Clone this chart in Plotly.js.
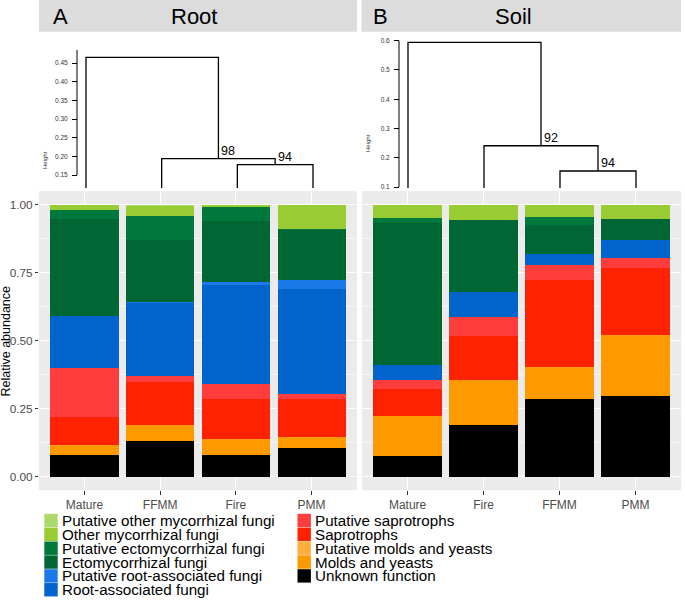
<!DOCTYPE html>
<html>
<head>
<meta charset="utf-8">
<script src="https://cdn.plot.ly/plotly-3.0.1.min.js"></script>
<style>html,body{margin:0;padding:0;background:#fff;}#chart{width:685px;height:601px;}</style>
</head>
<body>
<div id="chart"></div>
<script>
// ---------- data ----------
const rootSites = ['Mature', 'FFMM', 'Fire', 'PMM'];
const soilSites = ['Mature', 'Fire', 'FFMM', 'PMM'];

// guilds in stacking order (bottom -> top)
const guilds = ['Unknown function', 'Molds and yeasts', 'Putative molds and yeasts', 'Saprotrophs',
  'Putative saprotrophs', 'Root-associated fungi', 'Putative root-associated fungi',
  'Ectomycorrhizal fungi', 'Putative ectomycorrhizal fungi', 'Other mycorrhizal fungi',
  'Putative other mycorrhizal fungi'];
const guildColors = ['#000000', '#ff9900', '#ffad3b', '#ff2200', '#ff3d3d', '#0064cc', '#1a78e8',
  '#006633', '#00773b', '#99cc33', '#add86a'];

// Root panel (A) relative abundances, order = rootSites
const rootUnknown = [0.078, 0.132, 0.080, 0.104];
const rootMolds = [0.040, 0.058, 0.058, 0.042];
const rootPutMolds = [0, 0, 0, 0];
const rootSapro = [0.103, 0.158, 0.148, 0.140];
const rootPutSapro = [0.180, 0.023, 0.055, 0.018];
const rootRootAssoc = [0.190, 0.266, 0.362, 0.385];
const rootPutRootAssoc = [0, 0.005, 0.013, 0.034];
const rootEcto = [0.355, 0.228, 0.224, 0.184];
const rootPutEcto = [0.036, 0.088, 0.050, 0.003];
const rootOtherMyc = [0.018, 0.037, 0.010, 0.090];
const rootPutOtherMyc = [0, 0.005, 0, 0];

// Soil panel (B) relative abundances, order = soilSites
const soilUnknown = [0.075, 0.191, 0.286, 0.298];
const soilMolds = [0.149, 0.163, 0.116, 0.222];
const soilPutMolds = [0, 0, 0, 0];
const soilSapro = [0.097, 0.164, 0.322, 0.248];
const soilPutSapro = [0.034, 0.070, 0.053, 0.036];
const soilRootAssoc = [0.056, 0.091, 0.040, 0.066];
const soilPutRootAssoc = [0, 0, 0, 0];
const soilEcto = [0.523, 0.266, 0.107, 0.079];
const soilPutEcto = [0.017, 0, 0.032, 0];
const soilOtherMyc = [0.049, 0.055, 0.044, 0.051];
const soilPutOtherMyc = [0, 0, 0, 0];

// Dendrograms: merge heights (leaf2+leaf3, leaf1+node, leaf0+node) and bootstrap support
const rootMergeHeights = [0.1776, 0.1937, 0.4653];
const rootBootstrap = ['94', '98'];
const soilMergeHeights = [0.1547, 0.241, 0.5945];
const soilBootstrap = ['94', '92'];

const rootHeightTicks = [0.15, 0.20, 0.25, 0.30, 0.35, 0.40, 0.45];
const soilHeightTicks = [0.1, 0.2, 0.3, 0.4, 0.5, 0.6];

// legend columns (top -> bottom)
const legendCol1 = ['Putative other mycorrhizal fungi', 'Other mycorrhizal fungi', 'Putative ectomycorrhizal fungi',
  'Ectomycorrhizal fungi', 'Putative root-associated fungi', 'Root-associated fungi'];
const legendCol2 = ['Putative saprotrophs', 'Saprotrophs', 'Putative molds and yeasts', 'Molds and yeasts', 'Unknown function'];

// ---------- build ----------
const W = 685, H = 601;
const px = x => x / W;
const py = y => 1 - y / H;
const FONT = 'Liberation Sans, Arial, Helvetica, sans-serif';

const rootSeries = [rootUnknown, rootMolds, rootPutMolds, rootSapro, rootPutSapro, rootRootAssoc,
  rootPutRootAssoc, rootEcto, rootPutEcto, rootOtherMyc, rootPutOtherMyc];
const soilSeries = [soilUnknown, soilMolds, soilPutMolds, soilSapro, soilPutSapro, soilRootAssoc,
  soilPutRootAssoc, soilEcto, soilPutEcto, soilOtherMyc, soilPutOtherMyc];

const traces = [];
guilds.forEach((g, i) => {
  traces.push({type: 'bar', name: g, x: rootSites, y: rootSeries[i], xaxis: 'x', yaxis: 'y',
    width: 0.9, marker: {color: guildColors[i], line: {width: 0}}, showlegend: false, hoverinfo: 'skip'});
  traces.push({type: 'bar', name: g, x: soilSites, y: soilSeries[i], xaxis: 'x2', yaxis: 'y2',
    width: 0.9, marker: {color: guildColors[i], line: {width: 0}}, showlegend: false, hoverinfo: 'skip'});
});

function dendro(h, ymin) {
  const n1 = 2.5, n2 = (1 + n1) / 2;
  const xs = [2, 2, 3, 3, null, 1, 1, n1, n1, null, 0, 0, n2, n2];
  const ys = [ymin, h[0], h[0], ymin, null, ymin, h[1], h[1], h[0], null, ymin, h[2], h[2], h[1]];
  return {xs, ys, nodes: [[n1, h[0]], [n2, h[1]]]};
}
const rootY = [0.1152, 0.4982];
const soilY = [0.0966, 0.6195];
const dRoot = dendro(rootMergeHeights, rootY[0]);
const dSoil = dendro(soilMergeHeights, soilY[0]);
traces.push({type: 'scatter', mode: 'lines', x: dRoot.xs, y: dRoot.ys, xaxis: 'x3', yaxis: 'y3',
  line: {color: '#000', width: 1.3}, showlegend: false, hoverinfo: 'skip', connectgaps: false});
traces.push({type: 'scatter', mode: 'lines', x: dSoil.xs, y: dSoil.ys, xaxis: 'x4', yaxis: 'y4',
  line: {color: '#000', width: 1.3}, showlegend: false, hoverinfo: 'skip', connectgaps: false});

const shapes = [];
const annotations = [];

// panel backgrounds
shapes.push({type: 'rect', xref: 'paper', yref: 'paper', x0: px(39), x1: px(357), y0: py(490.3), y1: py(191.1),
  fillcolor: '#ebebeb', line: {width: 0}, layer: 'below'});
shapes.push({type: 'rect', xref: 'paper', yref: 'paper', x0: px(362), x1: px(681), y0: py(490.3), y1: py(191.1),
  fillcolor: '#ebebeb', line: {width: 0}, layer: 'below'});
// strips
shapes.push({type: 'rect', xref: 'paper', yref: 'paper', x0: px(39), x1: px(357), y0: py(31.7), y1: py(0),
  fillcolor: '#dcdcdc', line: {width: 0}, layer: 'below'});
shapes.push({type: 'rect', xref: 'paper', yref: 'paper', x0: px(361.5), x1: px(681), y0: py(31.7), y1: py(0),
  fillcolor: '#dcdcdc', line: {width: 0}, layer: 'below'});
annotations.push({xref: 'paper', yref: 'paper', x: px(51), y: py(16.5), text: 'A', showarrow: false,
  xanchor: 'left', yanchor: 'middle', font: {family: FONT, size: 22, color: '#000'}});
annotations.push({xref: 'paper', yref: 'paper', x: px(194), y: py(16.5), text: 'Root', showarrow: false,
  xanchor: 'center', yanchor: 'middle', font: {family: FONT, size: 22, color: '#000'}});
annotations.push({xref: 'paper', yref: 'paper', x: px(371), y: py(16.5), text: 'B', showarrow: false,
  xanchor: 'left', yanchor: 'middle', font: {family: FONT, size: 22, color: '#000'}});
annotations.push({xref: 'paper', yref: 'paper', x: px(513), y: py(16.5), text: 'Soil', showarrow: false,
  xanchor: 'center', yanchor: 'middle', font: {family: FONT, size: 22, color: '#000'}});

// dendrogram axis lines
shapes.push({type: 'line', xref: 'paper', yref: 'y3', x0: px(77), x1: px(77), y0: 0.15, y1: 0.485,
  line: {color: '#000', width: 1}});
shapes.push({type: 'line', xref: 'paper', yref: 'y4', x0: px(399), x1: px(399), y0: 0.1, y1: 0.6,
  line: {color: '#000', width: 1}});
annotations.push({xref: 'paper', yref: 'paper', x: px(45), y: py(160), text: 'Height', textangle: -90,
  xanchor: 'center', yanchor: 'middle', showarrow: false, font: {family: FONT, size: 6, color: '#333'}});
annotations.push({xref: 'paper', yref: 'paper', x: px(368), y: py(143), text: 'Height', textangle: -90,
  xanchor: 'center', yanchor: 'middle', showarrow: false, font: {family: FONT, size: 6, color: '#333'}});

// bootstrap labels
dRoot.nodes.forEach((n, i) => annotations.push({xref: 'x3', yref: 'y3', x: n[0], y: n[1], text: rootBootstrap[i],
  showarrow: false, xanchor: 'left', yanchor: 'bottom', xshift: 1, yshift: -1, font: {family: FONT, size: 12.5, color: '#000'}}));
dSoil.nodes.forEach((n, i) => annotations.push({xref: 'x4', yref: 'y4', x: n[0], y: n[1], text: soilBootstrap[i],
  showarrow: false, xanchor: 'left', yanchor: 'bottom', xshift: 1, yshift: -1, font: {family: FONT, size: 12.5, color: '#000'}}));

// y-axis title
annotations.push({xref: 'paper', yref: 'paper', x: px(5.5), y: py(341), text: 'Relative abundance', textangle: -90,
  xanchor: 'center', yanchor: 'middle', showarrow: false, font: {family: FONT, size: 12.5, color: '#000'}});

// legend (manual, from guild names/colours); one multi-line text per column
const ROW = 13.85;
function addLegend(list, x0, y0) {
  list.forEach((name, i) => {
    const c = guildColors[guilds.indexOf(name)];
    const yc = y0 + i * ROW;
    shapes.push({type: 'rect', xref: 'paper', yref: 'paper', x0: px(x0), x1: px(x0 + 13.4),
      y0: py(yc + 6.7), y1: py(yc - 6.7), fillcolor: c, line: {width: 0}});
  });
  const yMid = y0 + (list.length - 1) * ROW / 2;
  annotations.push({xref: 'paper', yref: 'paper', x: px(x0 + 15.5), y: py(yMid),
    text: list.map(s => '<span style="font-size:15.2px">' + s + '</span>').join('<br>'),
    showarrow: false, align: 'left', xanchor: 'left', yanchor: 'middle',
    font: {family: FONT, size: ROW / 1.3, color: '#000'}});
}
addLegend(legendCol1, 44.3, 520.5);
addLegend(legendCol2, 297.5, 520.5);

const gridCommon = {showgrid: true, gridcolor: '#ffffff', gridwidth: 1.1, zeroline: false, showline: false};
const layout = {
  width: W, height: H,
  margin: {l: 0, r: 0, t: 0, b: 0, pad: 0},
  paper_bgcolor: '#ffffff', plot_bgcolor: 'rgba(0,0,0,0)',
  barmode: 'stack', showlegend: false, hovermode: false,
  font: {family: FONT},
  xaxis: Object.assign({}, gridCommon, {domain: [px(39), px(357)], range: [-0.6, 3.6], anchor: 'y',
    type: 'category', categoryorder: 'array', categoryarray: rootSites,
    ticks: 'outside', ticklen: 3.5, tickwidth: 1, tickcolor: '#333333',
    tickfont: {family: FONT, size: 12, color: '#4d4d4d'}}),
  yaxis: Object.assign({}, gridCommon, {domain: [py(490.3), py(191.1)], range: [-0.05, 1.05], anchor: 'x',
    tickvals: [0, 0.25, 0.5, 0.75, 1], tickformat: '.2f',
    minor: {tickvals: [0.125, 0.375, 0.625, 0.875], showgrid: true, gridcolor: '#ffffff', gridwidth: 0.55},
    ticks: 'outside', ticklen: 3, tickwidth: 1, tickcolor: '#333333',
    tickfont: {family: FONT, size: 11.8, color: '#4d4d4d'}}),
  xaxis2: Object.assign({}, gridCommon, {domain: [px(362), px(681)], range: [-0.6, 3.6], anchor: 'y2',
    type: 'category', categoryorder: 'array', categoryarray: soilSites,
    ticks: 'outside', ticklen: 3.5, tickwidth: 1, tickcolor: '#333333',
    tickfont: {family: FONT, size: 12, color: '#4d4d4d'}}),
  yaxis2: Object.assign({}, gridCommon, {domain: [py(490.3), py(191.1)], range: [-0.05, 1.05], anchor: 'x2',
    tickvals: [0, 0.25, 0.5, 0.75, 1], showticklabels: false, ticks: '',
    minor: {tickvals: [0.125, 0.375, 0.625, 0.875], showgrid: true, gridcolor: '#ffffff', gridwidth: 0.55}}),
  xaxis3: {domain: [px(40.6), px(358.4)], range: [-0.6, 3.6], anchor: 'y3', visible: false},
  yaxis3: {domain: [py(188), py(45)], range: rootY, anchor: 'free', position: px(77),
    tickvals: rootHeightTicks, ticktext: rootHeightTicks.map(v => v.toFixed(2)),
    ticks: 'outside', ticklen: 5, tickwidth: 1, tickcolor: '#000', ticklabelstandoff: 3,
    showgrid: false, zeroline: false, showline: false, tickfont: {family: FONT, size: 6.5, color: '#333'}},
  xaxis4: {domain: [px(362.4), px(681.6)], range: [-0.6, 3.6], anchor: 'y4', visible: false},
  yaxis4: {domain: [py(188), py(35)], range: soilY, anchor: 'free', position: px(399),
    tickvals: soilHeightTicks, ticktext: soilHeightTicks.map(v => v.toFixed(1)),
    ticks: 'outside', ticklen: 5, tickwidth: 1, tickcolor: '#000', ticklabelstandoff: 3,
    showgrid: false, zeroline: false, showline: false, tickfont: {family: FONT, size: 6.5, color: '#333'}},
  shapes: shapes,
  annotations: annotations
};

Plotly.newPlot('chart', traces, layout, {staticPlot: true, displayModeBar: false});
</script>
</body>
</html>
